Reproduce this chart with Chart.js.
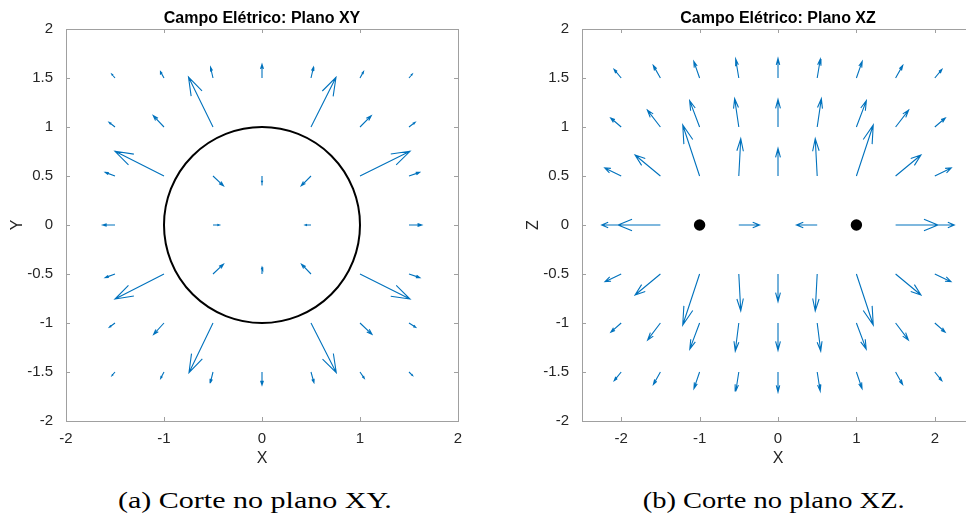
<!DOCTYPE html>
<html><head><meta charset="utf-8">
<script src="https://cdn.jsdelivr.net/npm/chart.js@4.4.0/dist/chart.umd.min.js"></script>
<style>
html,body{margin:0;padding:0;background:#fff;overflow:hidden;}
#wrap{position:relative;width:966px;height:515px;overflow:hidden;background:#fff;}
#c1{position:absolute;left:0;top:0;}
#c2{position:absolute;left:516px;top:0;}
.cap{position:absolute;top:489px;font-family:'Liberation Serif','Times New Roman',serif;font-size:23px;line-height:23px;color:#000;white-space:nowrap;transform-origin:center top;}
</style></head><body>
<div id="wrap">
<canvas id="c1" width="520" height="470"></canvas>
<canvas id="c2" width="520" height="470"></canvas>
<div class="cap" id="capA">(a) Corte no plano XY.</div>
<div class="cap" id="capB">(b) Corte no plano XZ.</div>
</div>
<script>
// ---------- data ----------
const xyTitle = 'Campo Elétrico: Plano XY';
const xzTitle = 'Campo Elétrico: Plano XZ';

// XY plane grid (rows top->bottom)
const xyX = [-1.5, -1, -0.5, 0, 0.5, 1, 1.5];
const xyY = [1.5, 1, 0.5, 0, -0.5, -1, -1.5];
const xyU = [
  [-0.034, -0.036, -0.025, 0, 0.025, 0.036, 0.034],
  [-0.061, -0.110, -0.250, null, 0.255, 0.115, 0.063],
  [-0.100, -0.500, 0.107, 0, -0.100, 0.510, 0.108],
  [-0.126, null, 0.066, null, -0.060, null, 0.130],
  [-0.100, -0.500, 0.107, 0, -0.097, 0.510, 0.110],
  [-0.058, -0.106, -0.245, null, 0.258, 0.122, 0.068],
  [-0.032, -0.034, -0.027, 0, 0.030, 0.044, 0.037]
];
const xyV = [
  [0.041, 0.065, 0.109, 0.139, 0.109, 0.065, 0.041],
  [0.048, 0.116, 0.510, null, 0.507, 0.116, 0.048],
  [0.037, 0.252, -0.100, -0.070, -0.100, 0.252, 0.037],
  [0, null, 0, null, 0, null, 0],
  [-0.037, -0.255, 0.100, 0.070, 0.100, -0.255, -0.037],
  [-0.044, -0.116, -0.507, null, -0.507, -0.116, -0.044],
  [-0.037, -0.065, -0.109, -0.133, -0.109, -0.065, -0.037]
];
const sphereCenter = [0, 0];
const sphereRadius = 1;

// XZ plane grid (rows top->bottom)
const xzX = [-2, -1.5, -1, -0.5, 0, 0.5, 1, 1.5, 2];
const xzZ = [1.5, 1, 0.5, 0, -0.5, -1, -1.5];
const xzU = [
  [-0.091, -0.091, -0.074, -0.040, 0, 0.040, 0.074, 0.091, 0.091],
  [-0.134, -0.166, -0.127, -0.053, 0, 0.053, 0.127, 0.166, 0.134],
  [-0.210, -0.323, -0.215, 0.025, 0, -0.025, 0.215, 0.323, 0.210],
  [-0.248, -0.540, null, 0.265, null, -0.265, null, 0.540, 0.248],
  [-0.206, -0.323, -0.215, 0.025, 0, -0.025, 0.215, 0.323, 0.206],
  [-0.132, -0.163, -0.125, -0.045, 0, 0.045, 0.125, 0.163, 0.132],
  [-0.089, -0.089, -0.072, -0.038, 0, 0.038, 0.072, 0.089, 0.089]
];
const xzV = [
  [0.088, 0.129, 0.170, 0.194, 0.200, 0.194, 0.170, 0.129, 0.088],
  [0.092, 0.173, 0.269, 0.289, 0.282, 0.289, 0.269, 0.173, 0.092],
  [0.082, 0.214, 0.520, 0.381, 0.282, 0.381, 0.520, 0.214, 0.082],
  [0, 0, null, 0, null, 0, null, 0, 0],
  [-0.078, -0.214, -0.520, -0.377, -0.282, -0.377, -0.520, -0.214, -0.078],
  [-0.094, -0.173, -0.267, -0.286, -0.280, -0.286, -0.267, -0.173, -0.094],
  [-0.088, -0.127, -0.170, -0.194, -0.205, -0.194, -0.170, -0.127, -0.088]
];
const chargeX = [-1, 1];
const chargeZ = [0, 0];

// axes ranges & tick labels
const xyXRange = [-2, 2];
const xyYRange = [-2, 2];
const xyXTicks = [-2, -1, 0, 1, 2];
const xyYTicks = [-2, -1.5, -1, -0.5, 0, 0.5, 1, 1.5, 2];
const xzXRange = [-2.5, 2.5];
const xzZRange = [-2, 2];
const xzXTicks = [-2, -1, 0, 1, 2];
const xzZTicks = [-2, -1.5, -1, -0.5, 0, 0.5, 1, 1.5, 2];

// ---------- style ----------
const ARROW_COLOR = '#0072BD';
const AXIS_COLOR = '#262626';
const FRAME_COLOR = '#a0a0a0';
const HEAD_A = 0.33, HEAD_B = 0.33; // quiver head proportions
Chart.defaults.font.family = '"Liberation Sans", Arial, Helvetica, sans-serif';
Chart.defaults.color = AXIS_COLOR;

function quiverPoints(xs, ys, U, V) {
  const pts = [];
  ys.forEach((y, i) => xs.forEach((x, j) => {
    const u = U[i][j], v = V[i][j];
    if (u === null || v === null || (u === 0 && v === 0)) return;
    const tx = x + u, ty = y + v;
    pts.push({x: x, y: y}, {x: tx, y: ty}, {x: tx, y: null});
    pts.push({x: tx - HEAD_A * (u + HEAD_B * v), y: ty - HEAD_A * (v - HEAD_B * u)},
             {x: tx, y: ty},
             {x: tx - HEAD_A * (u - HEAD_B * v), y: ty - HEAD_A * (v + HEAD_B * u)},
             {x: tx, y: null});
  }));
  return pts;
}

const axesPlugin = {
  id: 'matAxes',
  beforeDatasetsDraw(chart) {
    const {ctx, chartArea: a, scales} = chart;
    ctx.save();
    ctx.strokeStyle = FRAME_COLOR;
    ctx.lineWidth = 1;
    ctx.strokeRect(Math.round(a.left) + 0.5, Math.round(a.top) + 0.5,
                   Math.round(a.right - a.left), Math.round(a.bottom - a.top));
    ctx.beginPath();
    const TL = 4;
    scales.x.ticks.forEach(t => {
      const p = Math.round(scales.x.getPixelForValue(t.value)) + 0.5;
      ctx.moveTo(p, a.bottom); ctx.lineTo(p, a.bottom - TL);
      ctx.moveTo(p, a.top); ctx.lineTo(p, a.top + TL);
    });
    scales.y.ticks.forEach(t => {
      const p = Math.round(scales.y.getPixelForValue(t.value)) + 0.5;
      ctx.moveTo(a.left, p); ctx.lineTo(a.left + TL, p);
      ctx.moveTo(a.right, p); ctx.lineTo(a.right - TL, p);
    });
    ctx.stroke();
    ctx.restore();
  },
  afterDatasetsDraw(chart, args, opts) {
    const {ctx, chartArea: a, scales} = chart;
    ctx.save();
    if (opts.circle) {
      const cx = scales.x.getPixelForValue(opts.circle.c[0]);
      const cy = scales.y.getPixelForValue(opts.circle.c[1]);
      const rx = Math.abs(scales.x.getPixelForValue(opts.circle.c[0] + opts.circle.r) - cx);
      const ry = Math.abs(scales.y.getPixelForValue(opts.circle.c[1] + opts.circle.r) - cy);
      ctx.beginPath();
      ctx.ellipse(cx, cy, rx, ry, 0, 0, Math.PI * 2);
      ctx.strokeStyle = '#000';
      ctx.lineWidth = 2;
      ctx.stroke();
    }
    ctx.fillStyle = '#000';
    ctx.font = 'bold 16px "Liberation Sans", Arial, sans-serif';
    ctx.textAlign = 'center';
    ctx.textBaseline = 'alphabetic';
    ctx.fillText(opts.title, (a.left + a.right) / 2, a.top - 6);
    ctx.restore();
  }
};

function makeChart(id, cfg) {
  return new Chart(document.getElementById(id), {
    type: 'scatter',
    data: { datasets: cfg.datasets },
    options: {
      responsive: false,
      animation: false,
      events: [],
      layout: { padding: { left: 0, right: 62, top: 29, bottom: 0 } },
      plugins: {
        legend: { display: false },
        title: { display: false },
        tooltip: { enabled: false },
        matAxes: { title: cfg.title, circle: cfg.circle || null }
      },
      scales: {
        x: {
          type: 'linear', min: cfg.xRange[0], max: cfg.xRange[1],
          afterBuildTicks: s => { s.ticks = cfg.xTicks.map(v => ({ value: v })); },
          afterFit: s => { s.height = 49; },
          grid: { display: false },
          border: { display: false },
          ticks: { font: { size: 15 }, color: AXIS_COLOR, padding: 1, maxRotation: 0, callback: v => String(v) },
          title: { display: true, text: 'X', font: { size: 16 }, color: AXIS_COLOR, padding: { top: 0, bottom: 2 } }
        },
        y: {
          type: 'linear', min: cfg.yRange[0], max: cfg.yRange[1],
          afterBuildTicks: s => { s.ticks = cfg.yTicks.map(v => ({ value: v })); },
          afterFit: s => { s.width = 66; },
          grid: { display: false },
          border: { display: false },
          ticks: { font: { size: 15 }, color: AXIS_COLOR, padding: 5, callback: v => String(v) },
          title: { display: true, text: cfg.yLabel, font: { size: 16 }, color: AXIS_COLOR, padding: { top: 8, bottom: 0 } }
        }
      }
    },
    plugins: [axesPlugin]
  });
}

const arrowStyle = {
  showLine: true, pointRadius: 0, borderColor: ARROW_COLOR, borderWidth: 1.1,
  backgroundColor: ARROW_COLOR, tension: 0, spanGaps: false, borderCapStyle: 'butt', clip: false
};

makeChart('c1', {
  title: xyTitle, yLabel: 'Y', xRange: xyXRange, yRange: xyYRange, xTicks: xyXTicks, yTicks: xyYTicks,
  circle: { c: sphereCenter, r: sphereRadius },
  datasets: [Object.assign({ data: quiverPoints(xyX, xyY, xyU, xyV) }, arrowStyle)]
});

makeChart('c2', {
  title: xzTitle, yLabel: 'Z', xRange: xzXRange, yRange: xzZRange, xTicks: xzXTicks, yTicks: xzZTicks,
  datasets: [
    Object.assign({ data: quiverPoints(xzX, xzZ, xzU, xzV) }, arrowStyle),
    { data: chargeX.map((x, i) => ({ x: x, y: chargeZ[i] })), showLine: false,
      pointRadius: 5.7, pointBackgroundColor: '#000', pointBorderColor: '#000', pointBorderWidth: 0 }
  ]
});

// captions: fit the measured widths of the reference captions
function placeCaption(id, center, width) {
  const el = document.getElementById(id);
  const w = el.getBoundingClientRect().width;
  const k = width / w;
  el.style.left = (center - w / 2) + 'px';
  el.style.transform = 'scaleX(' + k.toFixed(3) + ')';
}
placeCaption('capA', 255, 274);
placeCaption('capB', 774, 262);
</script>
</body></html>
